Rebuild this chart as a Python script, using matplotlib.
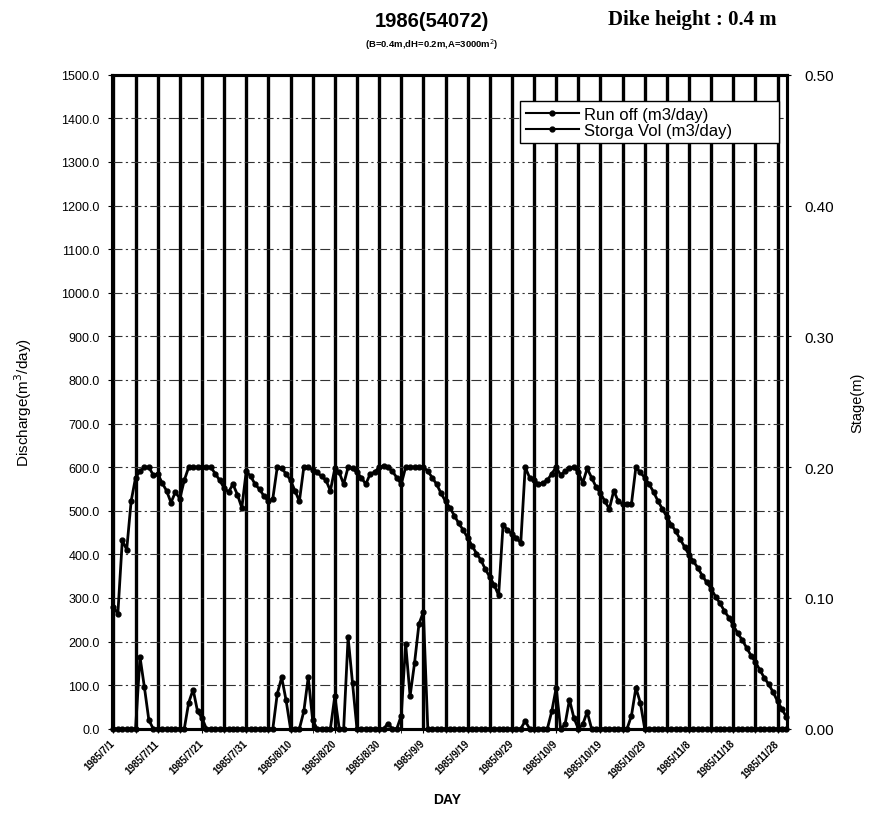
import matplotlib
matplotlib.use('Agg')
import matplotlib.pyplot as plt
from matplotlib.ticker import MultipleLocator, FormatStrFormatter
from matplotlib.lines import Line2D
import numpy as np

plt.rcParams['font.family'] = ['Liberation Sans', 'DejaVu Sans']

# daily values, 1985/7/1 .. 1985/11/30
run_off = [
    0, 0, 0, 0, 0, 0, 165, 95, 20, 0,
    0, 0, 0, 0, 0, 0, 0, 60, 90, 40,
    25, 0, 0, 0, 0, 0, 0, 0, 0, 0,
    0, 0, 0, 0, 0, 0, 0, 80, 118, 65,
    0, 0, 0, 40, 118, 20, 0, 0, 0, 0,
    75, 0, 0, 210, 105, 0, 0, 0, 0, 0,
    0, 0, 12, 0, 0, 30, 195, 75, 150, 240,
    268, 0, 0, 0, 0, 0, 0, 0, 0, 0,
    0, 0, 0, 0, 0, 0, 0, 0, 0, 0,
    0, 0, 0, 18, 0, 0, 0, 0, 0, 40,
    94, 0, 10, 67, 25, 0, 10, 39, 0, 0,
    0, 0, 0, 0, 0, 0, 0, 30, 94, 60,
    0, 0, 0, 0, 0, 0, 0, 0, 0, 0,
    0, 0, 0, 0, 0, 0, 0, 0, 0, 0,
    0, 0, 0, 0, 0, 0, 0, 0, 0, 0,
    0, 0, 0,
]

stage = [
    .093, .088, .144, .137, .174, .192, .197, .200, .200, .194,
    .195, .188, .182, .173, .181, .176, .190, .200, .200, .200,
    .200, .200, .200, .195, .190, .184, .181, .187, .179, .169,
    .197, .193, .187, .183, .178, .174, .176, .200, .199, .195,
    .190, .182, .174, .200, .200, .198, .196, .193, .190, .182,
    .199, .196, .187, .200, .199, .196, .192, .187, .195, .196,
    .200, .201, .200, .197, .192, .187, .200, .200, .200, .200,
    .200, .197, .192, .187, .180, .174, .169, .163, .157, .152,
    .146, .140, .134, .129, .122, .116, .110, .102, .156, .152,
    .149, .146, .142, .200, .192, .190, .187, .188, .190, .195,
    .200, .194, .197, .199, .200, .196, .188, .199, .192, .185,
    .180, .174, .168, .182, .174, .172, .172, .172, .200, .196,
    .192, .187, .181, .174, .168, .162, .156, .151, .145, .139,
    .133, .128, .123, .117, .112, .107, .101, .096, .090, .085,
    .079, .073, .068, .062, .056, .051, .045, .039, .034, .028,
    .021, .015, .009,
]

date_labels = ['1985/7/1', '1985/7/11', '1985/7/21', '1985/7/31', '1985/8/10',
               '1985/8/20', '1985/8/30', '1985/9/9', '1985/9/19', '1985/9/29',
               '1985/10/9', '1985/10/19', '1985/10/29', '1985/11/8', '1985/11/18',
               '1985/11/28']

days = np.arange(len(stage))

fig = plt.figure(figsize=(8.69, 8.2), dpi=100)
ax = fig.add_axes([0.129, 0.11, 0.777, 0.7976])
ax2 = ax.twinx()

ax.set_xlim(-0.3, 152.2)
ax.set_ylim(0, 1500)
ax2.set_ylim(0, 0.5)

ax.set_xticks(np.arange(0, len(date_labels) * 10, 10))
ax.set_xticklabels(date_labels, rotation=45, ha='right', va='center',
                   rotation_mode='anchor', fontsize=7, fontweight='bold')
ax.xaxis.set_minor_locator(MultipleLocator(5))
ax.grid(axis='x', which='both', color='k', lw=2.4)
ax.yaxis.set_major_locator(MultipleLocator(100))
ax.yaxis.set_major_formatter(FormatStrFormatter('%.1f'))
ax.grid(axis='y', color='#333333', lw=0.8, ls=(0, (9, 3, 2, 3)))
ax.set_axisbelow(True)

ax2.yaxis.set_major_locator(MultipleLocator(0.1))
ax2.yaxis.set_major_formatter(FormatStrFormatter('%.2f'))

ax.tick_params(axis='y', labelsize=9, length=3, pad=6)
ax2.tick_params(axis='y', labelsize=11, length=3, pad=9)
ax.tick_params(axis='x', which='both', length=3, pad=6)

for a in (ax, ax2):
    for sp in a.spines.values():
        sp.set_linewidth(2.2)

ax.plot(days, run_off, color='k', lw=2, marker='o', ms=3.5, clip_on=False, zorder=3)
ax2.plot(days, stage, color='k', lw=2, marker='o', ms=3.5, clip_on=False, zorder=3)

handles = [Line2D([], [], color='k', lw=1.5, marker='o', ms=3.5),
           Line2D([], [], color='k', lw=1.5, marker='o', ms=3.5)]
leg = ax2.legend(handles, ['Run off (m3/day)', 'Storga Vol (m3/day)'],
                 loc='upper left', bbox_to_anchor=(0.604, 0.0, 0.383, 0.96),
                 mode='expand', fontsize=12, frameon=True, fancybox=False,
                 edgecolor='k', framealpha=1, handlelength=3.2,
                 borderaxespad=0, labelspacing=0.05, borderpad=0.35,
                 handletextpad=0.3)
leg.get_frame().set_linewidth(1.0)

fig.text(0.497, 0.974, '1986(54072)', ha='center', va='center', fontsize=14.5,
         fontweight='bold')
fig.text(0.497, 0.946, '(B=0.4m,dH=0.2m,A=3000m$^2$)', ha='center', va='center',
         fontsize=6.8, fontweight='bold')
fig.text(0.70, 0.975, 'Dike height : 0.4 m', ha='left', va='center', fontsize=15,
         family=['Liberation Serif', 'DejaVu Serif'], fontweight='bold')

fig.text(0.027, 0.5085, 'Discharge(m$^3$/day)', rotation=90, ha='center', va='center',
         fontsize=11)
fig.text(0.987, 0.5085, 'Stage(m)', rotation=90, ha='center', va='center', fontsize=10.5)
fig.text(0.515, 0.024, 'DAY', ha='center', va='center', fontsize=10, fontweight='bold')

fig.savefig('out.png', dpi=100)
